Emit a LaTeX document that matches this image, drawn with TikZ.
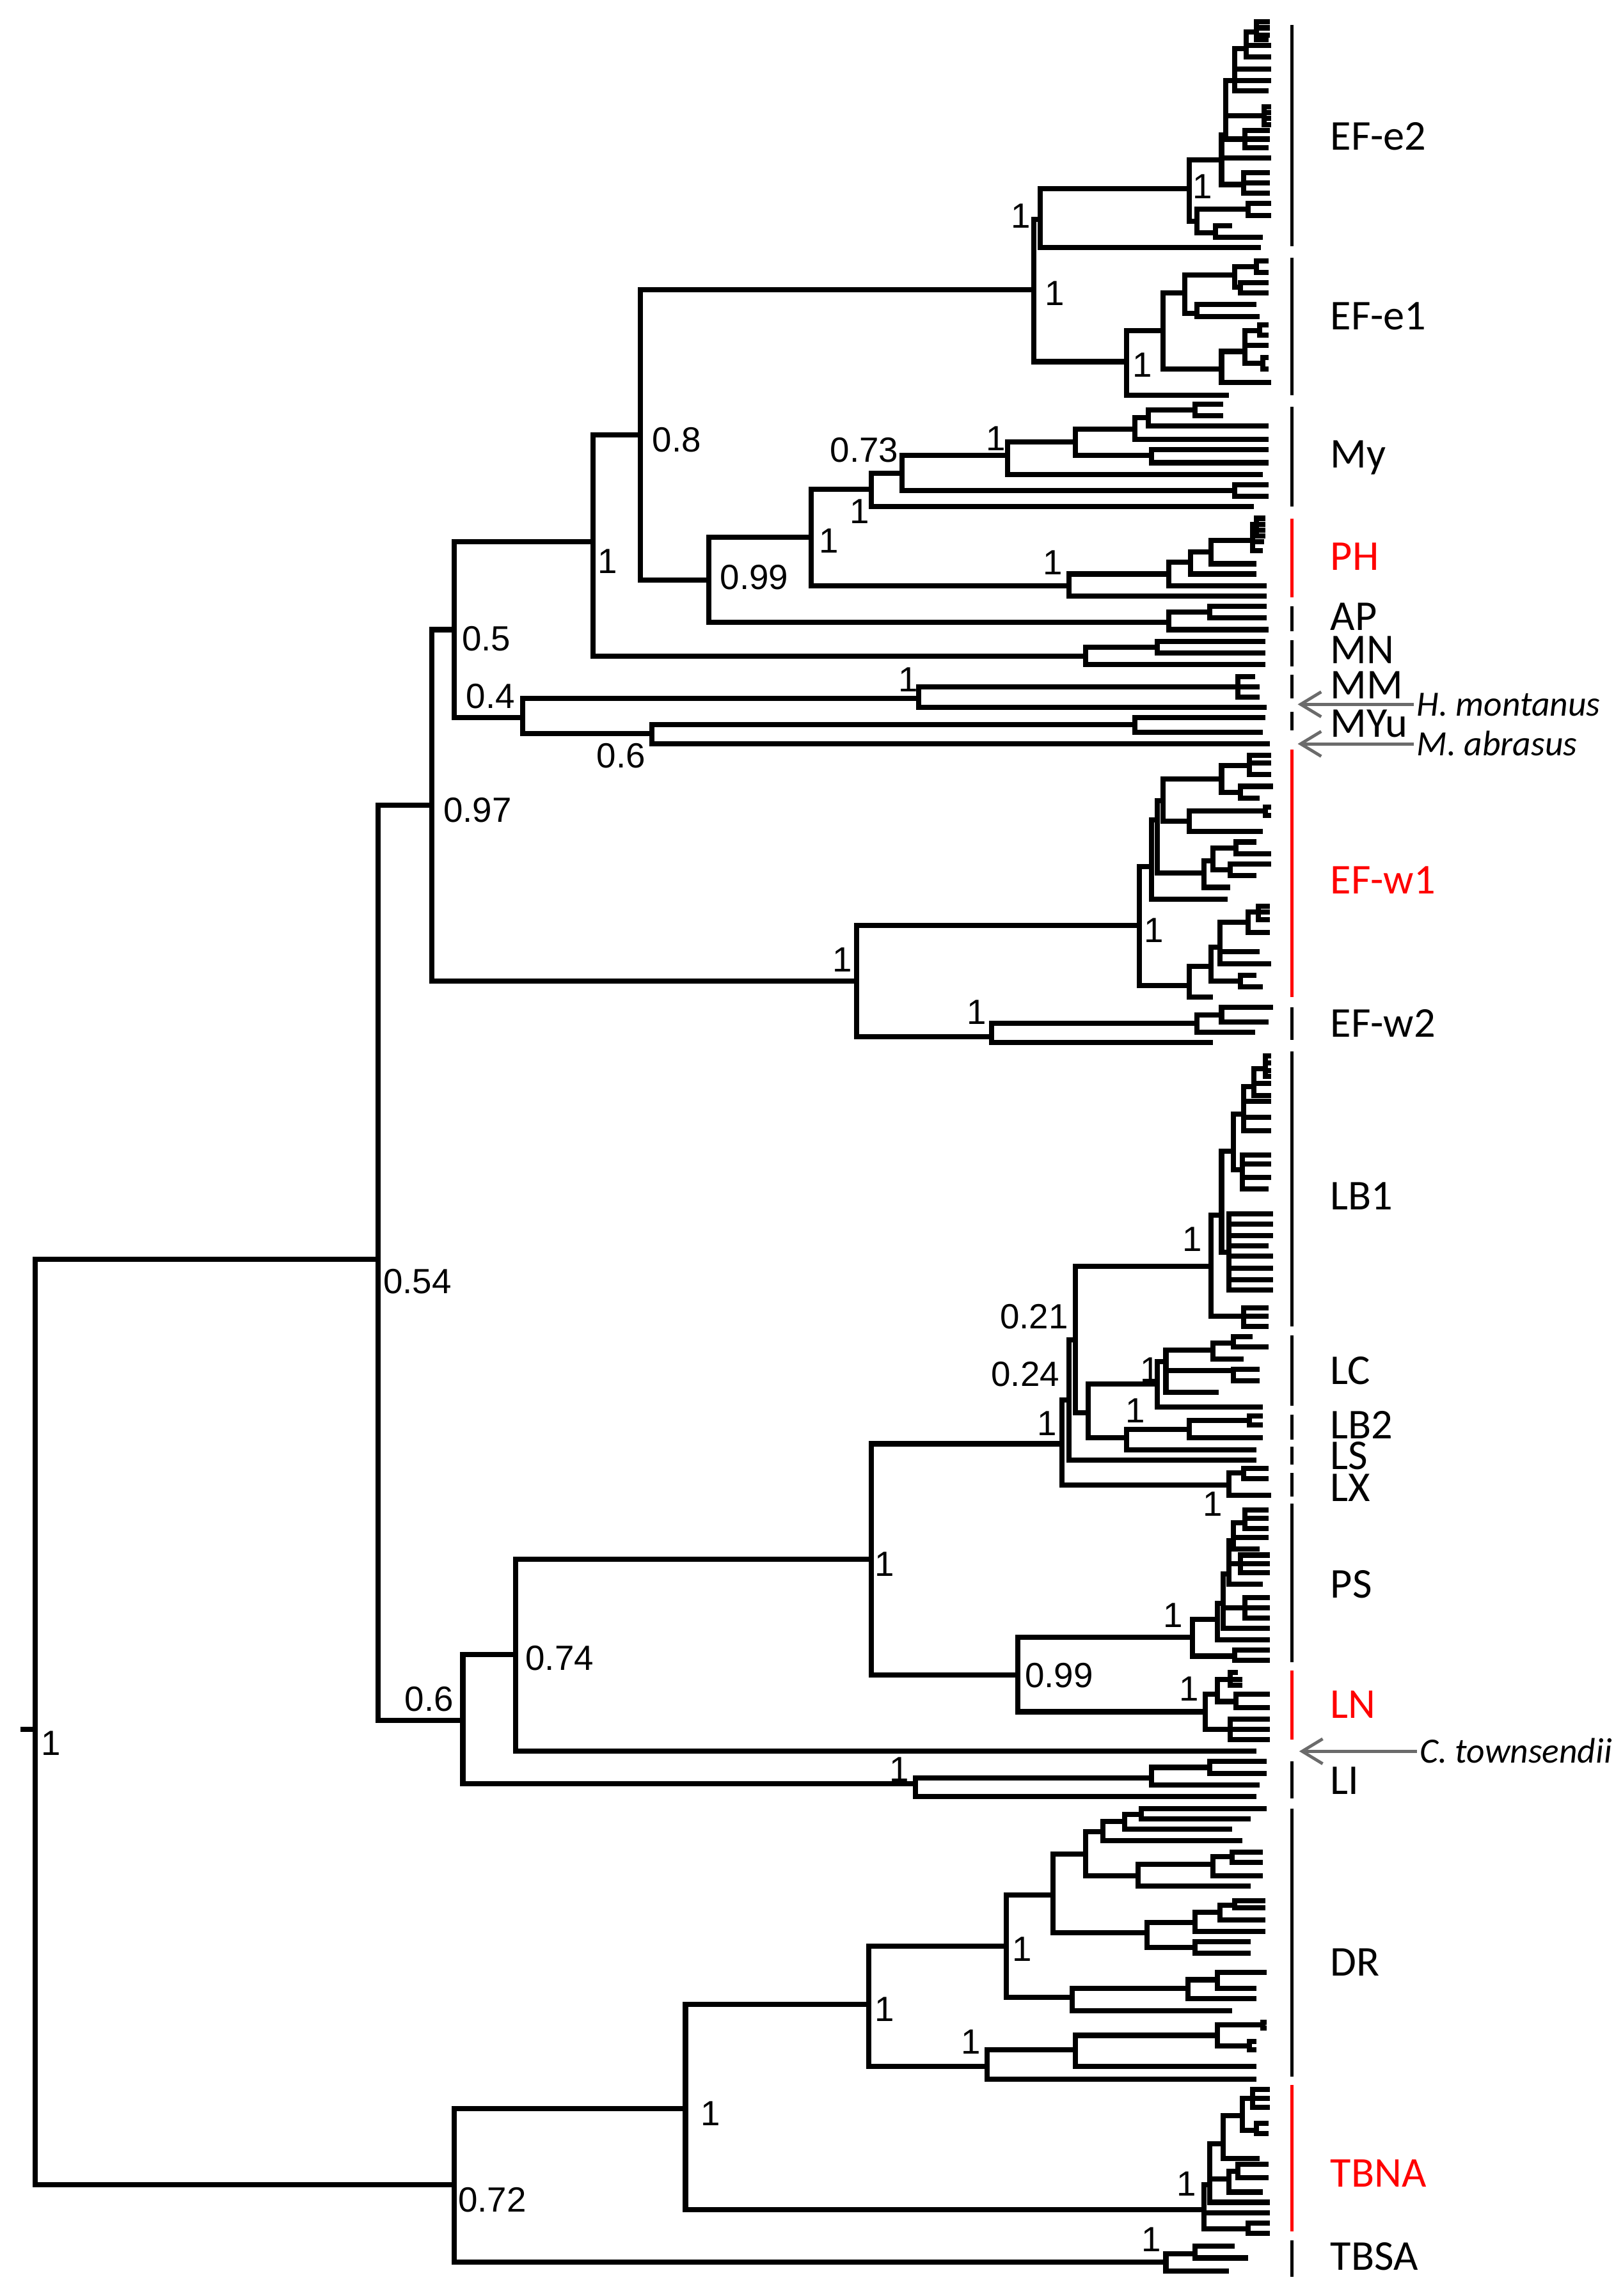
\documentclass[tikz,border=0pt]{standalone}
\usepackage{fontspec}
\setmainfont{Carlito}
\newfontfamily\numfont{Liberation Sans}
\usetikzlibrary{arrows.meta}

% internal node: name, x, attach y, parent
\newcommand{\branch}[4]{\coordinate (#1) at (#2,#3); \draw[br] (#4) |- (#1);}
% leaves of a node: list of y/x
\newcommand{\leaves}[2]{\foreach \ty/\tx in {#2} \draw[br] (#1) |- (\tx,\ty);}

\begin{document}
\begin{tikzpicture}[x=0.2mm,y=-0.2mm,
    br/.style={line width=2pt},
    bar/.style={line width=1.4pt},
    pp/.style={font=\numfont\fontsize{13.6}{15}\selectfont,inner sep=0pt,text height=9.7pt,text depth=0pt},
    clade/.style={font=\fontsize{16.5}{19}\selectfont,anchor=west,inner sep=0pt,text height=10.6pt,text depth=0pt},
    sp/.style={font=\fontsize{13.8}{16}\selectfont\itshape,anchor=west,inner sep=0pt,text height=8.9pt,text depth=0pt},
    pointer/.style={draw=black!58,line width=1.2pt,-{Straight Barb[length=2.8mm,width=3.4mm]}}]
\useasboundingbox (0,0) rectangle (1108,1568);
\pgfmathsetmacro{\barx}{882}
\pgfmathsetmacro{\labx}{908}

% backbone
\coordinate (stub) at (14,1181);
\coordinate (root) at (24,1181);
\draw[br] (stub) -- (root);
\branch{n054}{258}{860}{root}
\branch{n072}{310}{1492}{root}
\branch{n097}{295}{550}{n054}
\branch{n06}{316}{1175}{n054}
\branch{n05}{310}{430}{n097}
\branch{nEFw}{585}{670}{n097}
\branch{n1a}{405}{370}{n05}
\branch{n04}{357}{490}{n05}
\branch{n08}{437}{297}{n1a}
\branch{nMN}{741}{448}{n1a}
\branch{nMM}{627}{477}{n04}
\branch{nMYu0}{445}{501}{n04}
\branch{nEFe}{706}{198}{n08}
\branch{n099}{484}{396}{n08}

% EF-e2
\branch{nEFeB}{710}{150}{nEFe}
\branch{nEFe1}{769}{247}{nEFe}
\leaves{nEFeB}{169/861}
\branch{nEFe2}{812}{129}{nEFeB}
\branch{nD}{834}{109}{nEFe2}
\branch{nE}{817}{151}{nEFe2}
\branch{nE1}{852}{143}{nE} \leaves{nE1}{139/868,147/868}
\branch{nE2}{830}{159}{nE} \leaves{nE2}{154/841,162/862}
\branch{nD2}{837}{92}{nD} \leaves{nD}{108/868}
\branch{nD9}{849}{126}{nD} \leaves{nD9}{118/867,125/867,132/867}
\branch{nD3}{843}{55}{nD2}
\branch{nD8}{863}{79}{nD2} \leaves{nD8}{73/868,77/868,81/868,85/868}
\branch{nD7}{850}{95}{nD2} \leaves{nD7}{89/867,95/867,101/866}
\branch{nD4}{851}{33}{nD3} \leaves{nD3}{47/868,55/868,62/866}
\branch{nD5}{858}{22}{nD4} \leaves{nD4}{31/868,39/868}
\leaves{nD5}{15/867,19/867,24/867,27/866}

% EF-e1
\leaves{nEFe1}{270/839}
\branch{nF}{794}{226}{nEFe1}
\branch{nF1}{809}{200}{nF}
\branch{nF2}{834}{252}{nF}
\branch{nF11}{843}{188}{nF1}
\branch{nF12}{817}{214}{nF1} \leaves{nF12}{208/858,216/860}
\branch{nF111}{858}{182}{nF11} \leaves{nF111}{178/866,186/866}
\branch{nF112}{847}{196}{nF11} \leaves{nF112}{193/866,200/866}
\branch{nF21}{850}{240}{nF2} \leaves{nF2}{261/868}
\branch{nF211}{860}{226}{nF21} \leaves{nF211}{222/866,229/866}
\leaves{nF21}{236/866}
\branch{nF212}{862}{248}{nF21} \leaves{nF212}{244/866,252/866}

% My, PH, AP
\branch{n554}{554}{367}{n099}
\branch{nAP}{798}{425}{n099}
\branch{n595}{595}{334}{n554}
\branch{nPH}{730}{400}{n554}
\branch{n616}{616}{323}{n595} \leaves{n595}{346/856}
\branch{n688}{688}{311}{n616}
\branch{n843}{843}{335}{n616} \leaves{n843}{331/866,339/866}
\branch{n734}{734}{302}{n688} \leaves{n688}{324/862}
\branch{n775}{775}{293}{n734}
\branch{n786}{786}{311}{n734} \leaves{n786}{307/866,316/866}
\branch{n784}{784}{285}{n775} \leaves{n775}{300/866}
\branch{n816}{816}{280}{n784} \leaves{n816}{276/835,284/835}
\leaves{n784}{291/866}
\branch{nPH1}{798}{392}{nPH} \leaves{nPH}{407/865}
\branch{nPH2}{813}{384}{nPH1} \leaves{nPH1}{400/865}
\branch{nPH3}{827}{377}{nPH2} \leaves{nPH2}{392/858}
\branch{nPH4}{855}{369}{nPH3} \leaves{nPH3}{385/858}
\branch{nPH5}{858}{358}{nPH4} \leaves{nPH4}{370/863,376/862}
\leaves{nPH5}{354/864,358/864,362/864,366/864}
\branch{nAP1}{826}{418}{nAP} \leaves{nAP1}{414/865,422/865}
\leaves{nAP}{430/866}

% MN, MM, MYu
\branch{nMN1}{790}{442}{nMN} \leaves{nMN1}{438/864,446/864}
\leaves{nMN}{454/864}
\branch{nMM1}{845}{469}{nMM} \leaves{nMM1}{462/857,469/860,476/860}
\leaves{nMM}{483/865}
\branch{nMYu}{775}{495}{nMYu0} \leaves{nMYu}{490/864,500/862}
\leaves{nMYu0}{508/867}

% EF-w1, EF-w2
\branch{nW1}{778}{632}{nEFw}
\branch{nW2}{677}{708}{nEFw}
\branch{nW21}{817}{699}{nW2} \leaves{nW2}{712/828}
\branch{nW22}{834}{693}{nW21} \leaves{nW21}{705/857}
\leaves{nW22}{688/869,698/866}
\branch{nQ}{786}{592}{nW1}
\branch{nR}{790}{560}{nQ}
\branch{nS}{794}{547}{nR}
\branch{nS1}{834}{532}{nS}
\branch{nS11}{853}{523}{nS1} \leaves{nS11}{516/868,521/868,529/868}
\branch{nS12}{847}{541}{nS1} \leaves{nS12}{537/869,545/860}
\branch{nV}{812}{561}{nS}
\branch{nV1}{864}{554}{nV} \leaves{nV1}{551/868,557/868}
\leaves{nV}{568/862}
\branch{nX}{822}{596}{nR}
\branch{nX1}{828}{588}{nX} \leaves{nX}{606/840}
\branch{nX11}{844}{579}{nX1} \leaves{nX11}{575/858,583/868}
\branch{nX12}{840}{594}{nX1} \leaves{nX12}{590/868,598/858}
\leaves{nQ}{614/838}
\branch{nY}{812}{673}{nW1}
\branch{nY1}{827}{660}{nY} \leaves{nY}{681/828}
\branch{nY11}{833}{647}{nY1}
\branch{nY12}{847}{670}{nY1} \leaves{nY12}{666/858,674/862}
\branch{nY111}{852}{630}{nY11} \leaves{nY11}{650/860,658/868}
\branch{nY1111}{859}{623}{nY111} \leaves{nY1111}{619/867,623/867,628/867}
\leaves{nY111}{637/867}

% L clades, PS, LN
\branch{n074}{352}{1130}{n06}
\branch{nLI}{625}{1218}{n06}
\branch{n1ps}{595}{1065}{n074}
\leaves{n074}{1196/858}
\branch{nL}{725}{986}{n1ps}
\branch{nP0}{695}{1144}{n1ps}
\branch{n024}{730}{956}{nL}
\branch{nLX}{839}{1014}{nL}
\branch{n021}{734}{915}{n024} \leaves{n024}{997/858}
\branch{nLB1}{827}{865}{n021}
\branch{n743}{743}{965}{n021}
\branch{nLX1}{849}{1006}{nLX} \leaves{nLX1}{1003/866,1010/866}
\leaves{nLX}{1021/868}
\branch{nLC}{790}{945}{n743}
\branch{nLB2}{769}{982}{n743}
\branch{nLC1}{796}{930}{nLC} \leaves{nLC}{961/862}
\branch{nLC11}{828}{922}{nLC1}
\branch{nLC12}{842}{936}{nLC1} \leaves{nLC1}{951/832}
\branch{nLC111}{842}{917}{nLC11} \leaves{nLC111}{913/855,920/866}
\leaves{nLC11}{928/849}
\leaves{nLC12}{935/860,943/860}
\branch{nLB21}{812}{976}{nLB2} \leaves{nLB2}{990/858}
\branch{nLB211}{853}{970}{nLB21} \leaves{nLB211}{967/862,973/862}
\leaves{nLB21}{982/862}
\branch{nL2}{834}{830}{nLB1}
\branch{nL9}{849}{899}{nLB1} \leaves{nL9}{893/866,899/866,906/866}
\branch{nL3}{842}{786}{nL2}
\branch{nLb}{839}{855}{nL2}
\leaves{nLb}{829/869,836/869,844/869,851/866,858/869,866/869,874/869,881/869}
\branch{nL4}{849}{761}{nL3}
\branch{nL38}{848}{799}{nL3} \leaves{nL38}{789/868,795/868,804/868,812/866}
\branch{nL5}{856}{742}{nL4} \leaves{nL4}{752/868,763/868,772/868}
\branch{nL6}{864}{730}{nL5} \leaves{nL5}{740/868,748/868}
\leaves{nL6}{721/868,726/868,731/868,735/868}
\branch{nPS}{814}{1118}{nP0}
\branch{nLN}{823}{1169}{nP0}
\branch{nP2}{831}{1106}{nPS}
\branch{nP9}{843}{1131}{nPS} \leaves{nP9}{1127/867,1134/867}
\branch{nP3}{835}{1095}{nP2} \leaves{nP2}{1120/867}
\branch{nP4}{839}{1075}{nP3}
\branch{nP38}{850}{1098}{nP3} \leaves{nP38}{1091/867,1098/867,1105/867}
\leaves{nP3}{1112/867}
\branch{nP5}{842}{1052}{nP4}
\branch{nP47}{847}{1068}{nP4} \leaves{nP47}{1062/867,1068/867,1074/867}
\leaves{nP4}{1082/862}
\branch{nP6}{850}{1040}{nP5} \leaves{nP6}{1031/866,1037/866,1044/866}
\leaves{nP5}{1050/866,1058/860}
\branch{nLN1}{831}{1157}{nLN}
\branch{nLN2}{840}{1181}{nLN} \leaves{nLN2}{1174/867,1181/867,1188/867}
\branch{nLN11}{840}{1147}{nLN1} \leaves{nLN11}{1142/845,1147/848,1151/848}
\branch{nLN12}{844}{1162}{nLN1} \leaves{nLN12}{1157/867,1166/867}
\branch{nLI1}{786}{1214}{nLI} \leaves{nLI}{1227/858}
\branch{nLI11}{826}{1207}{nLI1} \leaves{nLI11}{1203/865,1211/865}
\leaves{nLI1}{1219/860}

% DR, TBNA, TBSA
\branch{n468}{468}{1440}{n072}
\branch{nTBSA}{796}{1545}{n072}
\branch{nDR}{593}{1369}{n468}
\branch{nTBNA}{822}{1509}{n468}
\branch{nDR1}{687}{1329}{nDR}
\branch{nDR2}{674}{1411}{nDR}
\branch{nDR11}{719}{1294}{nDR1}
\branch{nDR12}{732}{1364}{nDR1}
\branch{nDR111}{741}{1266}{nDR11}
\branch{nDR112}{783}{1320}{nDR11}
\branch{nDR1111}{753}{1251}{nDR111}
\branch{nDR1112}{777}{1281}{nDR111}
\branch{nDRa}{768}{1244}{nDR1111} \leaves{nDR1111}{1257/848}
\branch{nDRb}{779}{1239}{nDRa} \leaves{nDRa}{1249/841}
\leaves{nDRb}{1235/865,1242/854}
\branch{nDRc}{828}{1273}{nDR1112} \leaves{nDR1112}{1288/854}
\branch{nDRd}{841}{1268}{nDRc} \leaves{nDRc}{1281/862}
\leaves{nDRd}{1265/862,1272/862}
\branch{nDRe}{816}{1313}{nDR112}
\branch{nDRf}{816}{1330}{nDR112} \leaves{nDRf}{1326/854,1334/854}
\branch{nDRg}{833}{1306}{nDRe} \leaves{nDRe}{1319/864}
\branch{nDRh}{843}{1301}{nDRg} \leaves{nDRg}{1311/864}
\leaves{nDRh}{1298/864,1303/864}
\branch{nDRi}{811}{1358}{nDR12} \leaves{nDR12}{1373/841}
\branch{nDRj}{831}{1352}{nDRi} \leaves{nDRi}{1365/858}
\leaves{nDRj}{1347/865,1358/858}
\branch{nDRk}{734}{1400}{nDR2} \leaves{nDR2}{1420/858}
\branch{nDRl}{831}{1390}{nDRk} \leaves{nDRk}{1411/858}
\branch{nDRm}{862}{1383}{nDRl} \leaves{nDRm}{1381/865,1385/865}
\branch{nDRn}{853}{1397}{nDRl} \leaves{nDRn}{1394/858,1400/858}
\branch{nT1}{826}{1492}{nTBNA} \leaves{nTBNA}{1511/867}
\branch{nT9}{852}{1522}{nTBNA} \leaves{nT9}{1518/867,1525/867}
\branch{nT1a}{835}{1464}{nT1}
\branch{nT1b}{839}{1488}{nT1} \leaves{nT1}{1504/867}
\branch{nT1aa}{848}{1445}{nT1a} \leaves{nT1a}{1474/860}
\branch{nT2}{855}{1433}{nT1aa} \leaves{nT2}{1427/867,1433/867,1439/867}
\branch{nT3}{858}{1455}{nT1aa} \leaves{nT3}{1450/866,1457/866}
\branch{nT4}{845}{1483}{nT1b} \leaves{nT4}{1478/866,1487/866}
\leaves{nT1b}{1497/862}
\branch{nTBSA1}{816}{1539}{nTBSA} \leaves{nTBSA1}{1534/843,1542/852}
\leaves{nTBSA}{1551/839}

% clade bars and names
\foreach \ya/\yb/\lab/\ly [count=\i] in {17/168/EF-e2/93, 176/270/EF-e1/216, 278/346/My/310,
    414/431/AP/421, 437/455/MN/444, 461/477/MM/468, 486/499/MYu/494, 688/710/EF-w2/699,
    718/906/LB1/817, 912/960/LC/936, 966/983/LB2/973, 988/1000/LS/994, 1006/1022/LX/1016,
    1027/1135/PS/1082, 1203/1228/LI/1216, 1235/1418/DR/1340, 1530/1555/TBSA/1541}
  {\draw[bar] (\barx,\ya) -- (\barx,\yb);
   \node[clade] (cl\i) at (\labx,\ly) {\lab};}
\foreach \ya/\yb/\lab/\ly [count=\i] in {354/408/PH/380, 512/681/EF-w1/601,
    1141/1188/LN/1164, 1424/1524/TBNA/1484}
  {\draw[bar,red] (\barx,\ya) -- (\barx,\yb);
   \node[clade,red] (cr\i) at (\labx,\ly) {\lab};}

% pointed taxa
\node[sp] (hmont) at (967,481) {H. montanus};
\node[sp] (mabra) at (967,508) {M. abrasus};
\node[sp] (ctown) at (969,1196) {C. townsendii};
\coordinate (hmontE) at (886,481);
\coordinate (mabraE) at (886,508);
\coordinate (ctownE) at (887,1196);
\draw[pointer] ([xshift=-1pt]hmont.west) -- (hmontE);
\draw[pointer] ([xshift=-1pt]mabra.west) -- (mabraE);
\draw[pointer] ([xshift=-1pt]ctown.west) -- (ctownE);

% support values
\foreach \px/\py/\pv [count=\i] in {35/1190/1, 285/875/0.54, 336/1502/0.72, 326/553/0.97,
    293/1160/0.6, 332/436/0.5, 335/475/0.4, 424/516/0.6, 575/655/1, 415/383/1,
    462/300/0.8, 515/394/0.99, 566/369/1, 587/349/1, 590/307/0.73, 680/299/1,
    719/384/1, 620/464/1, 697/147/1, 720/200/1, 821/127/1, 780/249/1, 788/635/1,
    667/691/1, 814/846/1, 706/899/0.21, 700/938/0.24, 715/972/1, 785/935/1,
    775/963/1, 828/1027/1, 604/1068/1, 801/1103/1, 723/1144/0.99, 812/1153/1,
    614/1208/1, 382/1132/0.74, 698/1331/1, 604/1372/1, 663/1394/1, 485/1443/1,
    810/1491/1, 786/1529/1}
  \node[pp] (pp\i) at (\px,\py) {\pv};
\end{tikzpicture}
\end{document}
